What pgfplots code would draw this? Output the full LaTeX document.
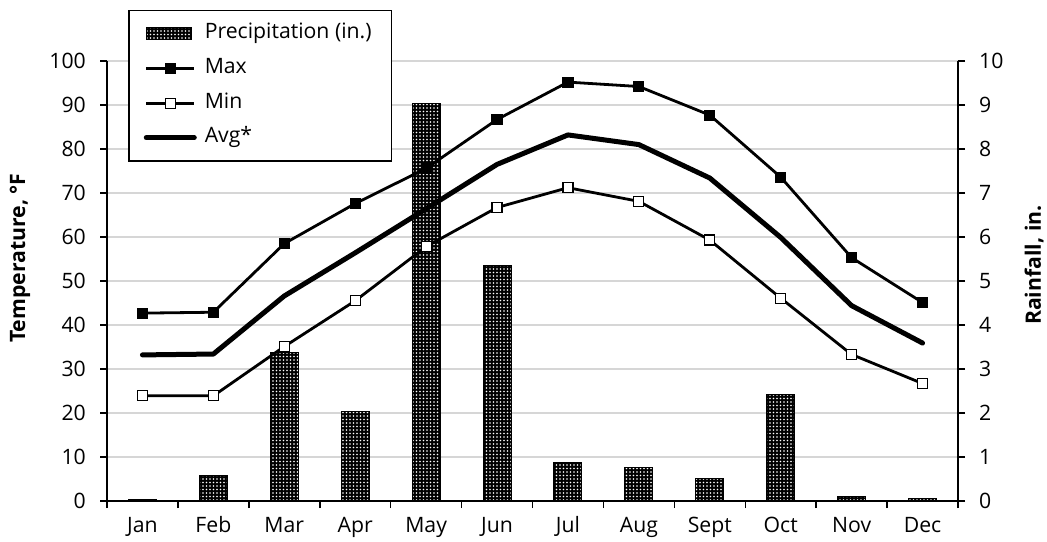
\documentclass[border=0pt]{standalone}
\usepackage{fontspec}
\setmainfont{Open Sans}
\usepackage{pgfplots}
\pgfplotsset{compat=1.18}
\usetikzlibrary{patterns.meta}
\tikzset{precip/.style={fill=black, draw=black, line width=1bp,
  postaction={pattern={Dots[distance=3.5bp, radius=0.85bp]}, pattern color=white}}}
\pgfplotsset{
  common/.style={
    scale only axis, width=851bp, height=440bp, at={(0,0)}, anchor=south west,
    xmin=-0.5, xmax=11.5,
    font=\fontsize{21.3}{25}\selectfont,
    /pgf/number format/assume math mode=true,
    tick align=outside,
    major tick length=7bp, minor tick length=7bp,
    every tick/.style={black, line width=1.5bp},
    axis line style={black, line width=1.5bp},
  }
}
\begin{document}
\begin{tikzpicture}
\useasboundingbox (-107bp,-41bp) rectangle (940bp,501bp);
% precipitation (right axis)
\begin{axis}[common,
  ymin=0, ymax=10, ytick={0,1,...,10},
  axis y line*=right, axis x line=none,
  ymajorgrids, grid style={draw=black!16, line width=1.5bp},
  yticklabel style={inner sep=0bp, anchor=west, xshift=14bp},
  ylabel={\bfseries Rainfall, in.},
  ylabel style={at={(axis description cs:1.0893,0.536)}, anchor=center},
  bar width=28bp,
]
\addplot[ybar, precip] coordinates {
(0,0.03) (1,0.58) (2,3.38) (3,2.04) (4,9.04) (5,5.35)
(6,0.87) (7,0.76) (8,0.50) (9,2.42) (10,0.11) (11,0.06)};
\end{axis}
% temperatures (left axis)
\begin{axis}[common,
  ymin=0, ymax=100, ytick={0,10,...,100},
  axis y line*=left, axis x line*=bottom,
  xtick={0,...,11},
  xticklabels={Jan,Feb,Mar,Apr,May,Jun,Jul,Aug,Sept,Oct,Nov,Dec},
  major x tick style={draw=none},
  minor xtick={-0.5,0.5,...,11.5},
  xticklabel style={inner sep=0bp, anchor=north, yshift=-9bp, text height=15bp, text depth=5bp},
  yticklabel style={inner sep=0bp, anchor=east, xshift=-14bp},
  ylabel={\bfseries Temperature, °F},
  ylabel style={at={(axis description cs:-0.1022,0.552)}, anchor=center},
  legend style={at={(axis description cs:0.0247,1.116)}, anchor=north west,
    draw=black, line width=1.5bp, inner xsep=15bp, inner ysep=13bp,
    row sep=14.7bp, column sep=0bp,
    nodes={inner sep=0bp, text height=15bp, text depth=5bp},
    /tikz/every odd column/.append style={column sep=8bp}},
  legend cell align=left,
]
\addlegendimage{legend image code/.code={\draw[precip] (0bp,-6bp) rectangle (45bp,6bp);}}
\addlegendentry{Precipitation (in.)\hspace*{5bp}}
\addplot[black, line width=2.8bp, mark=square*, mark size=5bp,
  mark options={fill=black, line width=1.2bp},
  legend image code/.code={\draw[mark repeat=2,mark phase=2] plot coordinates {(0bp,0bp) (24bp,0bp) (48bp,0bp)};}]
coordinates {(0,42.7) (1,42.9) (2,58.5) (3,67.6) (4,75.6) (5,86.7)
(6,95.2) (7,94.2) (8,87.7) (9,73.6) (10,55.3) (11,45.1)};
\addlegendentry{Max}
\addplot[black, line width=2.8bp, mark=square*, mark size=5bp,
  mark options={fill=white, line width=1.2bp},
  legend image code/.code={\draw[mark repeat=2,mark phase=2] plot coordinates {(0bp,0bp) (24bp,0bp) (48bp,0bp)};}]
coordinates {(0,23.9) (1,23.9) (2,35.1) (3,45.5) (4,57.8) (5,66.7)
(6,71.2) (7,68.1) (8,59.3) (9,46.1) (10,33.3) (11,26.7)};
\addlegendentry{Min}
\addplot[black, line width=5bp, line join=round, line cap=round,
  legend image code/.code={\draw (0bp,0bp) -- (48bp,0bp);}]
coordinates {(0,33.2) (1,33.4) (2,46.6) (3,56.4) (4,66.4) (5,76.5)
(6,83.2) (7,81.0) (8,73.4) (9,59.9) (10,44.4) (11,35.9)};
\addlegendentry{Avg*}
\end{axis}
\end{tikzpicture}
\end{document}
